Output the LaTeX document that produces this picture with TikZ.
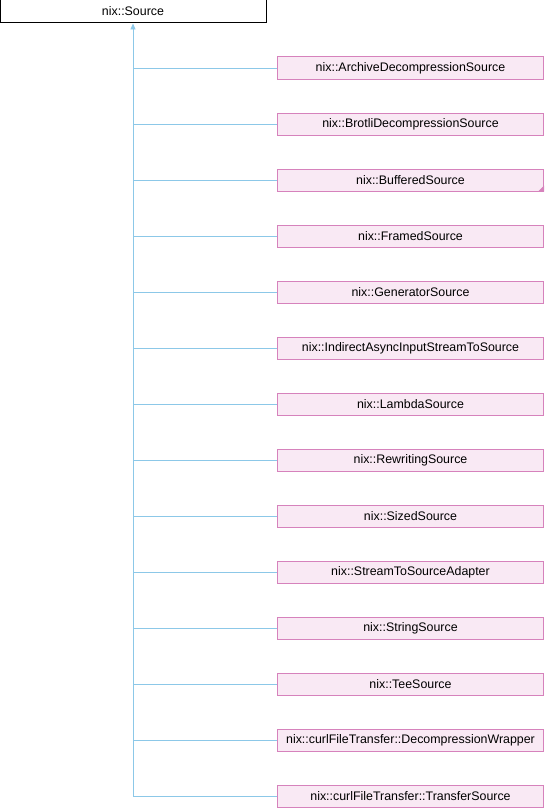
\documentclass[tikz,border=0pt]{standalone}
\usepackage{fontspec}
\setmainfont{Liberation Sans}
\usetikzlibrary{arrows.meta}
\definecolor{edgeblue}{HTML}{8CC8E8}
\definecolor{nodefill}{HTML}{F9E9F4}
\definecolor{nodeborder}{HTML}{D682BC}
\tikzset{
  base/.style={draw=black, fill=white, line width=1pt, minimum width=266pt, minimum height=23pt, inner sep=0pt, font=\fontsize{12.4}{14}\selectfont},
  child/.style={draw=nodeborder, fill=nodefill, line width=1pt, minimum width=266pt, minimum height=22pt, inner sep=0pt, font=\fontsize{12.4}{14}\selectfont},
  edge/.style={draw=edgeblue, line width=0.9pt},
}
\begin{document}
\begin{tikzpicture}[x=1pt,y=-1pt]
\useasboundingbox (0,0) rectangle (544,808);
\node[base] (src) at (133,11.5) {nix::Source};
\foreach \i/\name/\txt in {
  0/a/nix::ArchiveDecompressionSource,
  1/b/nix::BrotliDecompressionSource,
  2/c/nix::BufferedSource,
  3/d/nix::FramedSource,
  4/e/nix::GeneratorSource,
  5/f/nix::IndirectAsyncInputStreamToSource,
  6/g/nix::LambdaSource,
  7/h/nix::RewritingSource,
  8/i/nix::SizedSource,
  9/j/nix::StreamToSourceAdapter,
  10/k/nix::StringSource,
  11/l/nix::TeeSource,
  12/m/nix::curlFileTransfer::DecompressionWrapper,
  13/n/nix::curlFileTransfer::TransferSource} {
  \node[child] (\name) at (410.5,68+56*\i) {\txt};
  \coordinate (j\name) at (133,68+56*\i);
  \draw[edge] (j\name) -- (\name.west);
}
\fill[nodeborder] (c.south east) -- ++(-6,0) -- ++(6,-6) -- cycle;
\draw[edge, -{Triangle[width=5pt,length=6pt]}, fill=edgeblue] (jn) -- (src.south);
\end{tikzpicture}
\end{document}
